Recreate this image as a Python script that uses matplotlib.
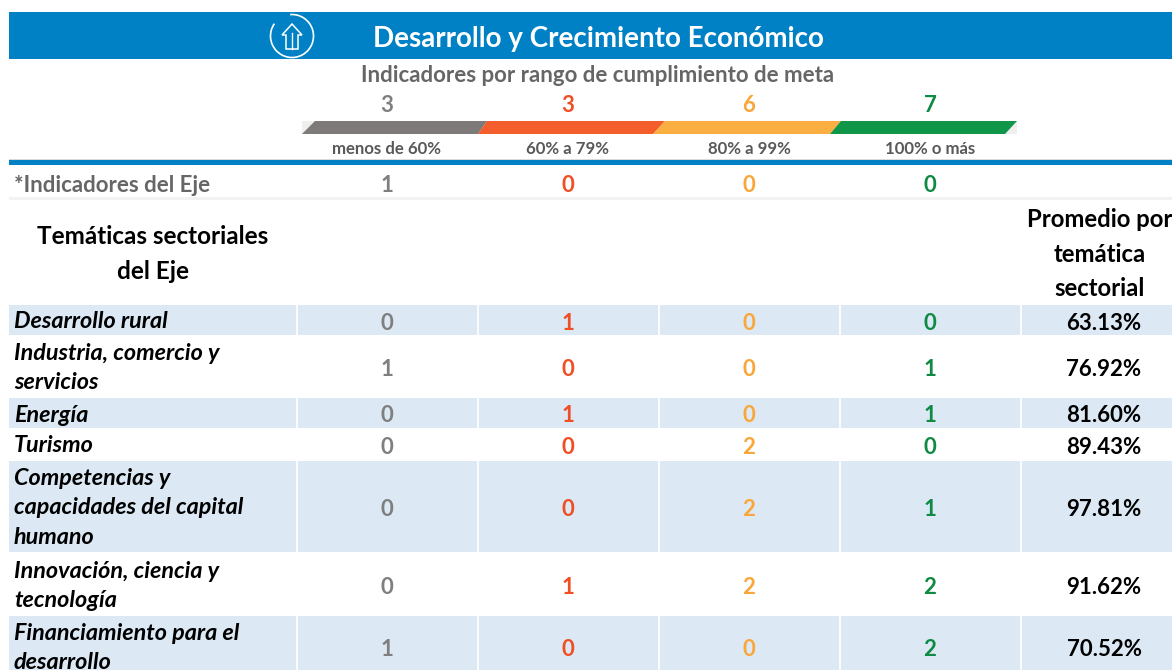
import matplotlib
matplotlib.use("Agg")
import matplotlib.pyplot as plt
from matplotlib.patches import Rectangle, Polygon, Arc

plt.rcParams['font.family'] = ['Lato', 'DejaVu Sans']

title = "Desarrollo y Crecimiento Económico"
subtitle = "Indicadores por rango de cumplimiento de meta"
range_totals = [3, 3, 6, 7]
range_labels = ["menos de 60%", "60% a 79%", "80% a 99%", "100% o más"]
eje_label = "*Indicadores del Eje"
eje_counts = [1, 0, 0, 0]
topics = ["Desarrollo rural", "Industria, comercio y\nservicios", "Energía", "Turismo",
          "Competencias y\ncapacidades del capital\nhumano", "Innovación, ciencia y\ntecnología",
          "Financiamiento para el\ndesarrollo"]
menos60 = [0, 1, 0, 0, 0, 0, 1]
r60_79 = [1, 0, 1, 0, 0, 1, 0]
r80_99 = [0, 0, 0, 2, 2, 2, 0]
r100 = [0, 1, 1, 0, 1, 2, 2]
promedio = ["63.13%", "76.92%", "81.60%", "89.43%", "97.81%", "91.62%", "70.52%"]

text_colors = ["#7f7f7f", "#f04e23", "#f9a63a", "#0f8a44"]
bar_colors = ["#7d7a79", "#f45d2c", "#fbae42", "#0f9648"]
blue = "#0081c6"; band = "#dce9f5"
rows = [(305, 335, True), (336, 397, False), (398, 428, True), (429, 460, False),
        (461, 552, True), (553, 615, False), (616, 680, True)]
ymids = [323, 369, 416, 447, 509, 587, 649]
col_x = [387, 568, 749, 930]
col_edges = [297, 478, 659, 840, 1021]

fig = plt.figure(figsize=(11.72, 6.70), dpi=100)
ax = fig.add_axes([0, 0, 1, 1])
ax.set_xlim(0, 1172); ax.set_ylim(670, 0); ax.axis("off")

ax.add_patch(Rectangle((9, 12), 1163, 47, color=blue, lw=0))
ax.text(598, 38.5, title, color="white", fontsize=20, fontweight="bold", ha="center", va="center")
ax.add_patch(Arc((292, 36), 43, 43, theta1=-95, theta2=215, color="white", lw=1.2))
ax.add_patch(Polygon([(282, 35), (292, 24), (302, 35), (298, 35), (298, 49), (286, 49), (286, 35)],
                     closed=True, fill=False, edgecolor="white", lw=1.1))
ax.plot([292, 292], [33, 49], color="white", lw=1.0)
ax.text(598, 75.5, subtitle, color="#666666", fontsize=16, fontweight="bold", ha="center", va="center")

for x, v, c in zip(col_x, range_totals, text_colors):
    ax.text(x, 106, str(v), color=c, fontsize=16, fontweight="bold", ha="center", va="center")

ax.add_patch(Rectangle((302, 121), 715, 13, color="#efefef", lw=0))
tops = [315, 487, 665, 841, 1017]
bots = [302, 478, 653, 830, 1005]
for i, c in enumerate(bar_colors):
    ax.add_patch(Polygon([(bots[i], 134), (tops[i], 121), (tops[i + 1], 121), (bots[i + 1], 134)], color=c, lw=0))
for x, l in zip(col_x, range_labels):
    ax.text(x, 149, l, color="#595959", fontsize=12.1, fontweight="bold", ha="center", va="center")

ax.add_patch(Rectangle((9, 159), 1163, 1.5, color="#d9d9d9", lw=0))
ax.add_patch(Rectangle((9, 160), 1163, 5, color=blue, lw=0))
ax.text(14, 185, eje_label, color="#666666", fontsize=16, fontweight="bold", ha="left", va="center")
for x, v, c in zip(col_x, eje_counts, text_colors):
    ax.text(x, 185, str(v), color=c, fontsize=16, fontweight="bold", ha="center", va="center")
ax.add_patch(Rectangle((9, 197), 1163, 3, color="#f2f2f2", lw=0))

ax.text(153, 254, "Temáticas sectoriales\ndel Eje", color="black", fontsize=17.5, fontweight="bold", ha="center", va="center", linespacing=1.62)
ax.text(1100, 254, "Promedio por\ntemática\nsectorial", color="black", fontsize=17.2, fontweight="bold", ha="center", va="center", linespacing=1.62)

for i, (y0, y1, shaded) in enumerate(rows):
    if shaded:
        ax.add_patch(Rectangle((9, y0), 1163, y1 - y0, color=band, lw=0))
        for e in col_edges:
            ax.plot([e, e], [y0, y1], color="white", lw=1.2)
    ax.text(14, ymids[i] - 1, topics[i], color="black", fontsize=16.8, fontweight="bold", style="italic", ha="left", va="center", linespacing=1.52)
    for x, v, c in zip(col_x, (menos60[i], r60_79[i], r80_99[i], r100[i]), text_colors):
        ax.text(x, ymids[i], str(v), color=c, fontsize=16, fontweight="bold", ha="center", va="center")
    ax.text(1104, ymids[i], promedio[i], color="black", fontsize=16, fontweight="bold", ha="center", va="center")

fig.savefig("out.png", dpi=100)
